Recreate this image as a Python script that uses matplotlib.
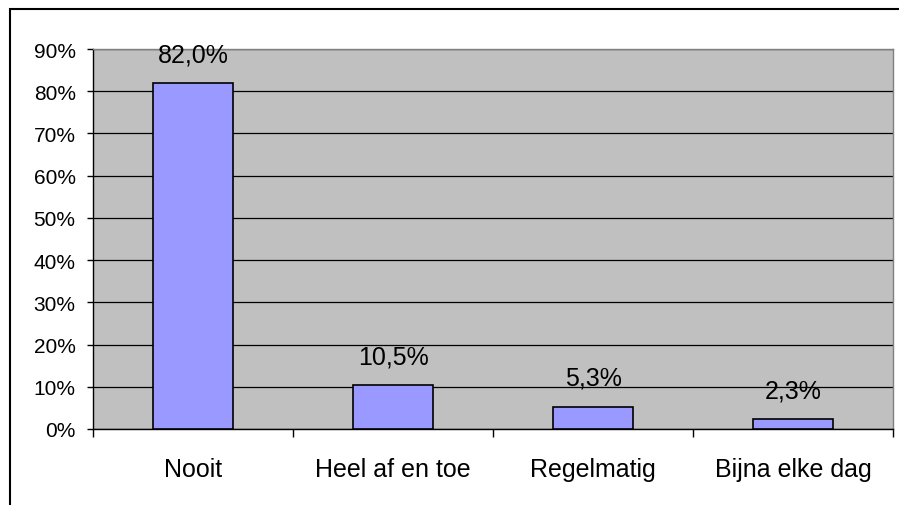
import numpy as np
import matplotlib
matplotlib.use('Agg')
import matplotlib.pyplot as plt
from matplotlib.patches import Rectangle

# data
categories = ['Nooit', 'Heel af en toe', 'Regelmatig', 'Bijna elke dag']
values = [82.0, 10.5, 5.3, 2.3]
labels = ['82,0%', '10,5%', '5,3%', '2,3%']
yticks = [0, 10, 20, 30, 40, 50, 60, 70, 80, 90]

plt.rcParams['font.family'] = 'Liberation Sans'

W, H = 899, 506
fig = plt.figure(figsize=(W / 100, H / 100), dpi=100)
fig.patch.set_facecolor('white')

# outer chart border (right/bottom edges fall outside the image)
fig.patches.append(Rectangle((10 / W, -0.1), 1.2, 1 - 10 / H + 0.1,
                             transform=fig.transFigure, fill=False,
                             edgecolor='black', linewidth=1.5))

ax = fig.add_axes([93 / W, (H - 430) / H, 800 / W, 380 / H])
ax.set_facecolor('#C0C0C0')

x = np.arange(len(categories))
ax.bar(x, values, width=0.4, color='#9999FF', edgecolor='black', linewidth=1.2, zorder=3)

for xi, v, lab in zip(x, values, labels):
    ax.annotate(lab, (xi, v), xytext=(0, 12), textcoords='offset points',
                ha='center', va='bottom', fontsize=18)

ax.set_xlim(-0.5, len(categories) - 0.5)
ax.set_ylim(0, 90)
ax.set_yticks(yticks)
ax.set_yticklabels([f'{t}%' for t in yticks], fontsize=15)
ax.yaxis.grid(True, color='black', linewidth=0.9, zorder=1)
ax.set_axisbelow(True)

# ticks at category boundaries, labels in the middle
ax.set_xticks(np.arange(len(categories) + 1) - 0.5)
ax.set_xticklabels([])
ax.set_xticks(x, minor=True)
ax.set_xticklabels(categories, minor=True, fontsize=18)
ax.tick_params(axis='x', which='major', direction='out', length=6, width=1, color='black')
ax.tick_params(axis='x', which='minor', length=0, pad=20)
ax.tick_params(axis='y', direction='out', length=4.5, width=1, pad=8)

for s in ['left', 'bottom']:
    ax.spines[s].set_color('black')
    ax.spines[s].set_linewidth(1)
for s in ['right', 'top']:
    ax.spines[s].set_color('#808080')
    ax.spines[s].set_linewidth(1)

fig.savefig('out.png', dpi=100)
